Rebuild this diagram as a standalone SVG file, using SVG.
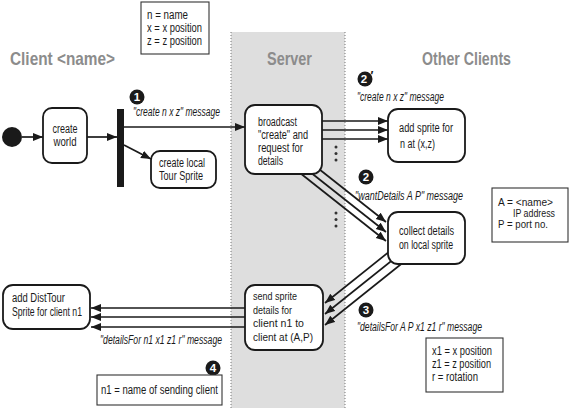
<svg xmlns="http://www.w3.org/2000/svg" width="570" height="410" viewBox="0 0 570 410">
<defs>
<marker id="ah" markerUnits="userSpaceOnUse" markerWidth="11" markerHeight="9" refX="10" refY="4" orient="auto">
<path d="M0,0 L10,4 L0,8 z" fill="#1a1a1a"/>
</marker>
<style>
text{font-family:"Liberation Sans",Arial,sans-serif;fill:#1a1a1a}
.t{font-size:12px}
.s{font-size:11px}
.xs{font-size:10.5px}
.it{font-size:12px;font-style:italic}
.title{font-size:18.5px;font-weight:bold;fill:#8c8c8c}
.node{fill:#fff;stroke:#1a1a1a;stroke-width:1.8}
.legend{fill:#fff;stroke:#333;stroke-width:1.1}
.c{fill:none;stroke:#1a1a1a;stroke-width:1.7;marker-end:url(#ah)}
.badge{fill:#1a1a1a}
.bn{font-size:11.5px;font-weight:bold;fill:#fff;text-anchor:middle}
.dot{fill:#333}
</style>
</defs>
<rect width="570" height="410" fill="#fff"/>
<g id="server-lane">
<rect x="231" y="32" width="114" height="376" fill="#dedede"/>
<line x1="231" y1="32" x2="231" y2="408" stroke="#777" stroke-width="1" stroke-dasharray="1,2"/>
<line x1="345" y1="32" x2="345" y2="408" stroke="#777" stroke-width="1" stroke-dasharray="1,2"/>
</g>
<g id="titles">
<text class="title" x="10" y="65" textLength="105" lengthAdjust="spacingAndGlyphs">Client &lt;name&gt;</text>
<text class="title" x="267" y="65" textLength="45" lengthAdjust="spacingAndGlyphs">Server</text>
<text class="title" x="422" y="65" textLength="89" lengthAdjust="spacingAndGlyphs">Other Clients</text>
</g>
<g id="connectors">
<line class="c" x1="22" y1="137" x2="43" y2="137"/>
<line class="c" x1="87" y1="137" x2="117" y2="137"/>
<line class="c" x1="124" y1="145" x2="151" y2="159"/>
<line class="c" x1="124" y1="127" x2="245" y2="127"/>
<line class="c" x1="315" y1="121" x2="388" y2="121"/>
<line class="c" x1="315" y1="130" x2="388" y2="130"/>
<line class="c" x1="315" y1="139" x2="388" y2="139"/>
<line class="c" x1="312" y1="163.5" x2="386" y2="222"/>
<line class="c" x1="305" y1="168" x2="386" y2="232"/>
<line class="c" x1="295" y1="169" x2="386" y2="241"/>
<line class="c" x1="395" y1="247" x2="325" y2="303"/>
<line class="c" x1="400" y1="254" x2="325" y2="314"/>
<line class="c" x1="410" y1="257" x2="325" y2="325"/>
<line class="c" x1="250" y1="308" x2="91" y2="308"/>
<line class="c" x1="250" y1="317" x2="91" y2="317"/>
<line class="c" x1="250" y1="327" x2="91" y2="327"/>
</g>
<g id="dots">
<circle class="dot" cx="336" cy="147" r="1.5"/>
<circle class="dot" cx="336" cy="153.5" r="1.5"/>
<circle class="dot" cx="336" cy="160" r="1.5"/>
<circle class="dot" cx="336" cy="213" r="1.5"/>
<circle class="dot" cx="336" cy="219.5" r="1.5"/>
<circle class="dot" cx="336" cy="226" r="1.5"/>
</g>
<g id="start"><circle cx="12" cy="137" r="10" fill="#1a1a1a"/></g>
<g id="fork"><rect x="117" y="109" width="7" height="78" fill="#1a1a1a"/></g>
<g id="create-world">
<rect class="node" x="43" y="108" width="44" height="55" rx="9"/>
<text class="t" x="65" y="133" text-anchor="middle" textLength="25" lengthAdjust="spacingAndGlyphs">create</text>
<text class="t" x="65" y="146" text-anchor="middle" textLength="23" lengthAdjust="spacingAndGlyphs">world</text>
</g>
<g id="create-local">
<rect class="node" x="151" y="151" width="65" height="37" rx="9"/>
<text class="t" x="159" y="167" textLength="46" lengthAdjust="spacingAndGlyphs">create local</text>
<text class="t" x="159" y="180" textLength="44" lengthAdjust="spacingAndGlyphs">Tour Sprite</text>
</g>
<g id="broadcast">
<rect class="node" x="245" y="105" width="77" height="69" rx="10"/>
<text class="t" x="258" y="126" textLength="39" lengthAdjust="spacingAndGlyphs">broadcast</text>
<text class="t" x="258" y="139" textLength="50" lengthAdjust="spacingAndGlyphs">"create" and</text>
<text class="t" x="258" y="152" textLength="45" lengthAdjust="spacingAndGlyphs">request for</text>
<text class="t" x="258" y="165" textLength="25" lengthAdjust="spacingAndGlyphs">details</text>
</g>
<g id="add-sprite">
<rect class="node" x="388" y="109" width="77" height="53" rx="10"/>
<text class="t" x="399" y="132" textLength="54" lengthAdjust="spacingAndGlyphs">add sprite for</text>
<text class="t" x="400" y="148" textLength="35" lengthAdjust="spacingAndGlyphs">n at (x,z)</text>
</g>
<g id="collect">
<rect class="node" x="388" y="212" width="77" height="52" rx="10"/>
<text class="t" x="399" y="235" textLength="55" lengthAdjust="spacingAndGlyphs">collect details</text>
<text class="t" x="399" y="249" textLength="54" lengthAdjust="spacingAndGlyphs">on local sprite</text>
</g>
<g id="send-sprite">
<rect class="node" x="245" y="285" width="78" height="65" rx="10"/>
<text class="xs" x="253" y="300" textLength="44" lengthAdjust="spacingAndGlyphs">send sprite</text>
<text class="xs" x="253" y="313.5" textLength="39" lengthAdjust="spacingAndGlyphs">details for</text>
<text class="xs" x="253" y="327" textLength="51" lengthAdjust="spacingAndGlyphs">client n1 to</text>
<text class="xs" x="253" y="340.5" textLength="60" lengthAdjust="spacingAndGlyphs">client at (A,P)</text>
</g>
<g id="add-disttour">
<rect class="node" x="3" y="285" width="87" height="44" rx="10"/>
<text class="t" x="12" y="302" textLength="53" lengthAdjust="spacingAndGlyphs">add DistTour</text>
<text class="t" x="12" y="316" textLength="70" lengthAdjust="spacingAndGlyphs">Sprite for  client n1</text>
</g>
<g id="labels">
<text class="it" x="133" y="116" textLength="87" lengthAdjust="spacingAndGlyphs">"create n x z" message</text>
<text class="it" x="357" y="101" textLength="87" lengthAdjust="spacingAndGlyphs">"create n x z" message</text>
<text class="it" x="355" y="200" textLength="108" lengthAdjust="spacingAndGlyphs">"wantDetails A P" message</text>
<text class="it" x="357" y="331" textLength="125" lengthAdjust="spacingAndGlyphs">"detailsFor A P x1 z1 r" message</text>
<text class="it" x="100" y="344" textLength="122" lengthAdjust="spacingAndGlyphs">"detailsFor n1 x1 z1 r" message</text>
</g>
<g id="badges">
<circle class="badge" cx="137" cy="97" r="7.5"/>
<text class="bn" x="137" y="101">1</text>
<circle class="badge" cx="365" cy="79" r="7.5"/>
<text class="bn" x="364" y="83">2</text>
<text x="370.5" y="80" style="font-size:12px;font-weight:bold">′</text>
<circle class="badge" cx="366" cy="177" r="7.5"/>
<text class="bn" x="366" y="181">2</text>
<circle class="badge" cx="366" cy="310" r="7.5"/>
<text class="bn" x="366" y="314">3</text>
<circle class="badge" cx="213" cy="368" r="7.5"/>
<text class="bn" x="213" y="372">4</text>
</g>
<g id="legend-nxz">
<rect class="legend" x="141" y="2" width="68" height="52"/>
<text class="t" x="147" y="19" textLength="41" lengthAdjust="spacingAndGlyphs">n = name</text>
<text class="t" x="147" y="32" textLength="55" lengthAdjust="spacingAndGlyphs">x = x position</text>
<text class="t" x="147" y="45" textLength="55" lengthAdjust="spacingAndGlyphs">z = z position</text>
</g>
<g id="legend-ap">
<rect class="legend" x="492" y="188" width="76" height="54"/>
<text class="s" x="498" y="206" textLength="55" lengthAdjust="spacingAndGlyphs">A = &lt;name&gt;</text>
<text class="s" x="513" y="217" textLength="42" lengthAdjust="spacingAndGlyphs">IP address</text>
<text class="s" x="498" y="228" textLength="50" lengthAdjust="spacingAndGlyphs">P =  port no.</text>
</g>
<g id="legend-xzr">
<rect class="legend" x="426" y="338" width="77" height="54"/>
<text class="t" x="432" y="355" textLength="60" lengthAdjust="spacingAndGlyphs">x1 = x position</text>
<text class="t" x="432" y="368" textLength="59" lengthAdjust="spacingAndGlyphs">z1 = z position</text>
<text class="t" x="432" y="381" textLength="46" lengthAdjust="spacingAndGlyphs">r = rotation</text>
</g>
<g id="legend-n1">
<rect class="legend" x="97" y="375" width="125" height="30"/>
<text class="t" x="101" y="394" textLength="117" lengthAdjust="spacingAndGlyphs">n1 = name of  sending client</text>
</g>
</svg>
